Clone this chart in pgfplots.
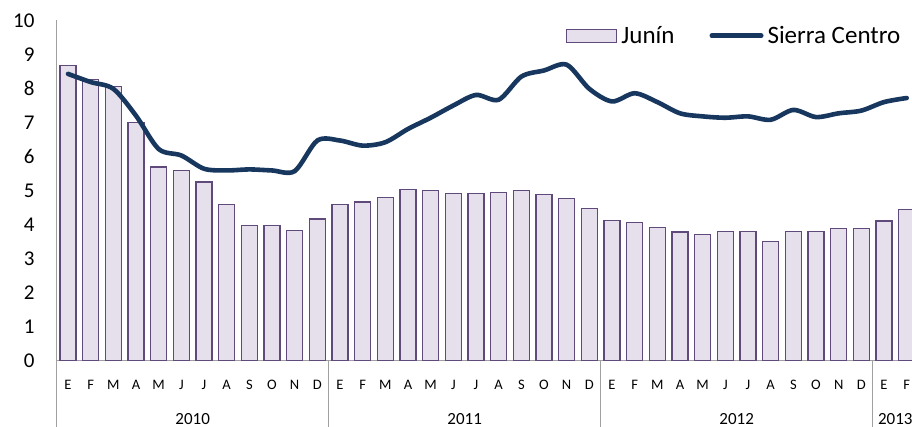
\documentclass[border=0pt]{standalone}
\usepackage{fontspec}
\setmainfont{Carlito}
\usepackage{pgfplots}
\pgfplotsset{compat=1.18}
\definecolor{barfill}{HTML}{E6E0EC}
\definecolor{barline}{HTML}{604A7B}
\definecolor{navy}{HTML}{17375E}
\definecolor{axgray}{HTML}{A0A0A0}
\begin{document}
\begin{tikzpicture}
\begin{axis}[
  at={(0,0)}, anchor=south west,
  width=855.33bp, height=340bp, scale only axis,
  xmin=-0.5, xmax=37.235, ymin=0, ymax=10,
  clip=false,
  axis x line*=bottom, axis y line*=left,
  axis line style={draw=axgray, line width=0.8bp},
  ytick={0,1,...,10},
  /pgf/number format/assume math mode=true,
  yticklabel style={font=\fontsize{21bp}{25bp}\selectfont, inner sep=0pt, anchor=east, xshift=-22bp},
  ytick style={draw=none},
  xtick={0,1,...,37},
  xticklabels={E,F,M,A,M,J,J,A,S,O,N,D,E,F,M,A,M,J,J,A,S,O,N,D,E,F,M,A,M,J,J,A,S,O,N,D,E,F},
  xticklabel style={font=\fontsize{14.5bp}{17bp}\selectfont, inner sep=0pt, anchor=base, yshift=-29bp},
  major tick length=0pt,
  extra x ticks={-0.5,11.5,23.5,35.5},
  extra x tick labels={},
  extra x tick style={tick align=outside, major tick length=66.5bp, tick style={draw=axgray, line width=0.8bp}},
  legend columns=2,
  legend cell align=left,
  legend style={draw=none, fill=none, at={(axis description cs:0.5955,0.955)}, anchor=west,
    inner sep=0pt, font=\fontsize{25bp}{30bp}\selectfont, nodes={inner sep=0pt},
    /tikz/every odd column/.append style={column sep=4bp},
    /tikz/every even column/.append style={column sep=35bp}},
]
\addplot[ybar, bar width=16bp, fill=barfill, draw=barline, line width=1.2bp,
  legend image code/.code={\draw[fill=barfill, draw=barline, line width=1.2bp] (0bp,-6.5bp) rectangle (50bp,6.5bp);}]
  table {
x y
0 8.68
1 8.26
2 8.07
3 7.01
4 5.69
5 5.59
6 5.25
7 4.59
8 3.97
9 3.97
10 3.83
11 4.16
12 4.59
13 4.66
14 4.79
15 5.03
16 5.00
17 4.90
18 4.92
19 4.93
20 4.99
21 4.89
22 4.76
23 4.48
24 4.12
25 4.07
26 3.92
27 3.78
28 3.70
29 3.80
30 3.80
31 3.51
32 3.79
33 3.79
34 3.89
35 3.89
36 4.10
37 4.45
};
\addlegendentry{Junín}
\addplot[smooth, navy, line width=4.6bp, line cap=round,
  legend image code/.code={\draw[navy, line width=4.6bp, line cap=round] (2.3bp,0bp) -- (51.7bp,0bp);}]
  table {
x y
0 8.43
1 8.19
2 7.99
3 7.20
4 6.22
5 6.03
6 5.64
7 5.59
8 5.62
9 5.59
10 5.57
11 6.47
12 6.47
13 6.32
14 6.42
15 6.81
16 7.14
17 7.50
18 7.81
19 7.67
20 8.35
21 8.53
22 8.70
23 7.99
24 7.62
25 7.86
26 7.60
27 7.27
28 7.18
29 7.14
30 7.18
31 7.08
32 7.37
33 7.16
34 7.27
35 7.35
36 7.60
37 7.72
};
\addlegendentry{Sierra Centro}
\node[font=\fontsize{17bp}{20bp}\selectfont, anchor=base, inner sep=0pt] at ([yshift=-64bp]axis cs:5.5,0) {2010};
\node[font=\fontsize{17bp}{20bp}\selectfont, anchor=base, inner sep=0pt] at ([yshift=-64bp]axis cs:17.5,0) {2011};
\node[font=\fontsize{17bp}{20bp}\selectfont, anchor=base, inner sep=0pt] at ([yshift=-64bp]axis cs:29.5,0) {2012};
\node[font=\fontsize{17bp}{20bp}\selectfont, anchor=base, inner sep=0pt] at ([yshift=-64bp]axis cs:36.5,0) {2013};
\end{axis}
\pgfresetboundingbox
\path[use as bounding box] (-56.67bp,-66.5bp) rectangle (855.33bp,360.5bp);
\end{tikzpicture}
\end{document}
